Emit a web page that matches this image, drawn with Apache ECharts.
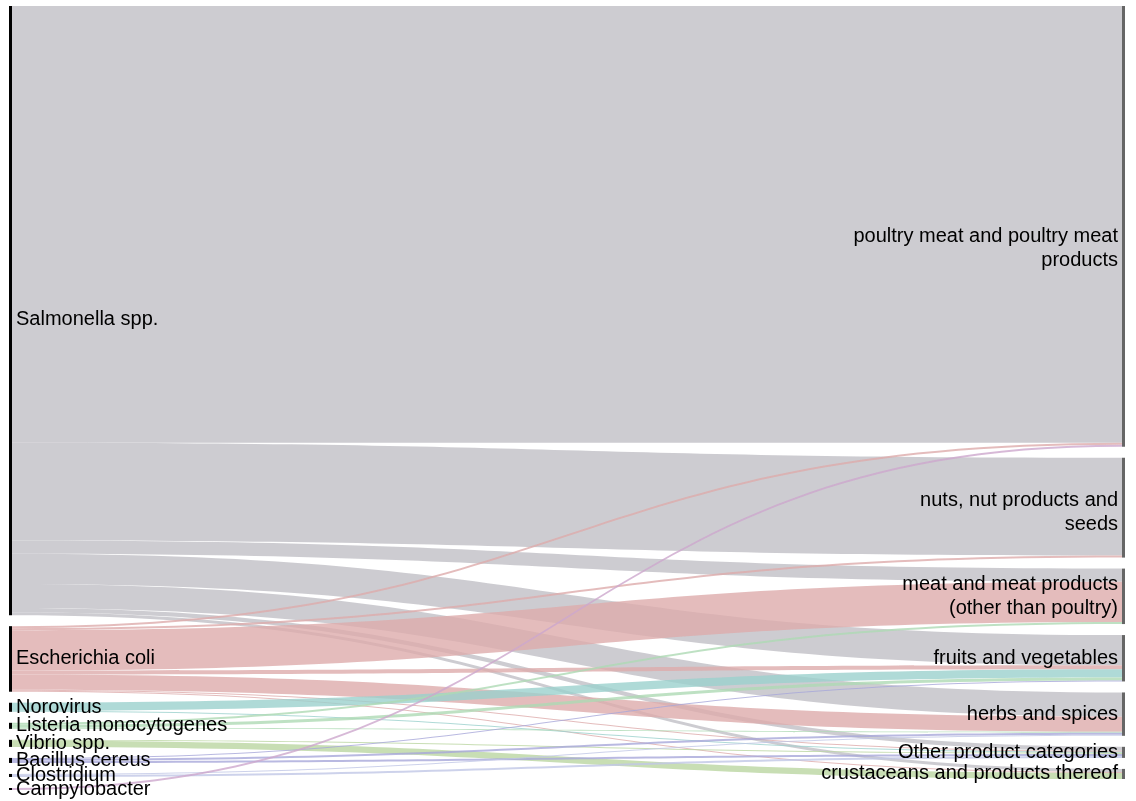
<!DOCTYPE html>
<html>
<head>
<meta charset="utf-8">
<script src="https://cdn.jsdelivr.net/npm/echarts@6/dist/echarts.min.js"></script>
<style>
    html, body { margin: 0; padding: 0; background: #fff; }
    #chart { width: 1136px; height: 801px; }
</style>
</head>
<body>
<div id="chart"></div>
<script>
    // pathogens (left column)
    const sources = ['Salmonella spp.', 'Escherichia coli', 'Norovirus', 'Listeria monocytogenes',
        'Vibrio spp.', 'Bacillus cereus', 'Clostridium', 'Campylobacter'];
    // product categories (right column)
    const targets = ['poultry meat and poultry meat products', 'nuts, nut products and seeds',
        'meat and meat products (other than poultry)', 'fruits and vegetables', 'herbs and spices',
        'Other product categories', 'crustaceans and products thereof'];
    const targetLabels = ['poultry meat and poultry meat\nproducts', 'nuts, nut products and\nseeds',
        'meat and meat products\n(other than poultry)', 'fruits and vegetables', 'herbs and spices',
        'Other product categories', 'crustaceans and products thereof'];

    // flows, one row per pathogen, columns in the order of targets
    const salmonella    = [433, 97, 13, 30, 24, 4, 3];
    const ecoli         = [2, 2, 40, 4, 15, 1, 1];
    const norovirus     = [0, 0, 0, 8, 0, 1, 0];
    const listeria      = [0, 0, 2, 3, 1, 0, 0];
    const vibrio        = [0, 0, 0, 0, 0, 1, 6];
    const bacillus      = [0, 0, 0, 1, 2, 2, 0];
    const clostridium   = [0, 0, 0, 0, 1, 2, 0];
    const campylobacter = [2, 0, 0, 0, 0, 0, 0];
    const flows = [salmonella, ecoli, norovirus, listeria, vibrio, bacillus, clostridium, campylobacter];

    const linkColors = ['#c0bfc5', '#ddabab', '#9bd1cd', '#aedab4', '#bad6a1', '#a7a7da', '#c1c7e6', '#cda7cd'];

    // small label nudges so text sits where the original put it
    const sourceOffsets = { 'Salmonella spp.': [0, 9] };
    const targetOffsets = { 'poultry meat and poultry meat products': [0, 22], 'nuts, nut products and seeds': [0, 5] };

    const nodes = [];
    sources.forEach(function (name) {
        nodes.push({
            name: name,
            itemStyle: { color: '#000' },
            label: { position: 'right', distance: 4, offset: sourceOffsets[name] || [0, 0] }
        });
    });
    targets.forEach(function (name, i) {
        nodes.push({
            name: name,
            itemStyle: { color: '#666' },
            label: {
                position: 'left',
                distance: 4,
                align: 'right',
                offset: targetOffsets[name] || [0, 0],
                formatter: targetLabels[i]
            }
        });
    });

    const links = [];
    flows.forEach(function (row, s) {
        row.forEach(function (v, t) {
            if (v > 0) {
                links.push({
                    source: sources[s],
                    target: targets[t],
                    value: v,
                    lineStyle: { color: linkColors[s] }
                });
            }
        });
    });

    const myChart = echarts.init(document.getElementById('chart'));
    myChart.setOption({
        animation: false,
        series: [{
            type: 'sankey',
            left: 9,
            right: 11,
            top: 6,
            bottom: 11,
            nodeWidth: 3,
            nodeGap: 11,
            layoutIterations: 0,
            draggable: false,
            emphasis: { disabled: true },
            label: {
                color: '#000',
                fontSize: 20,
                lineHeight: 24,
                fontFamily: 'Liberation Sans, Arial, sans-serif'
            },
            itemStyle: { borderWidth: 0 },
            lineStyle: { opacity: 0.8, curveness: 0.5 },
            data: nodes,
            links: links
        }]
    });
</script>
</body>
</html>
